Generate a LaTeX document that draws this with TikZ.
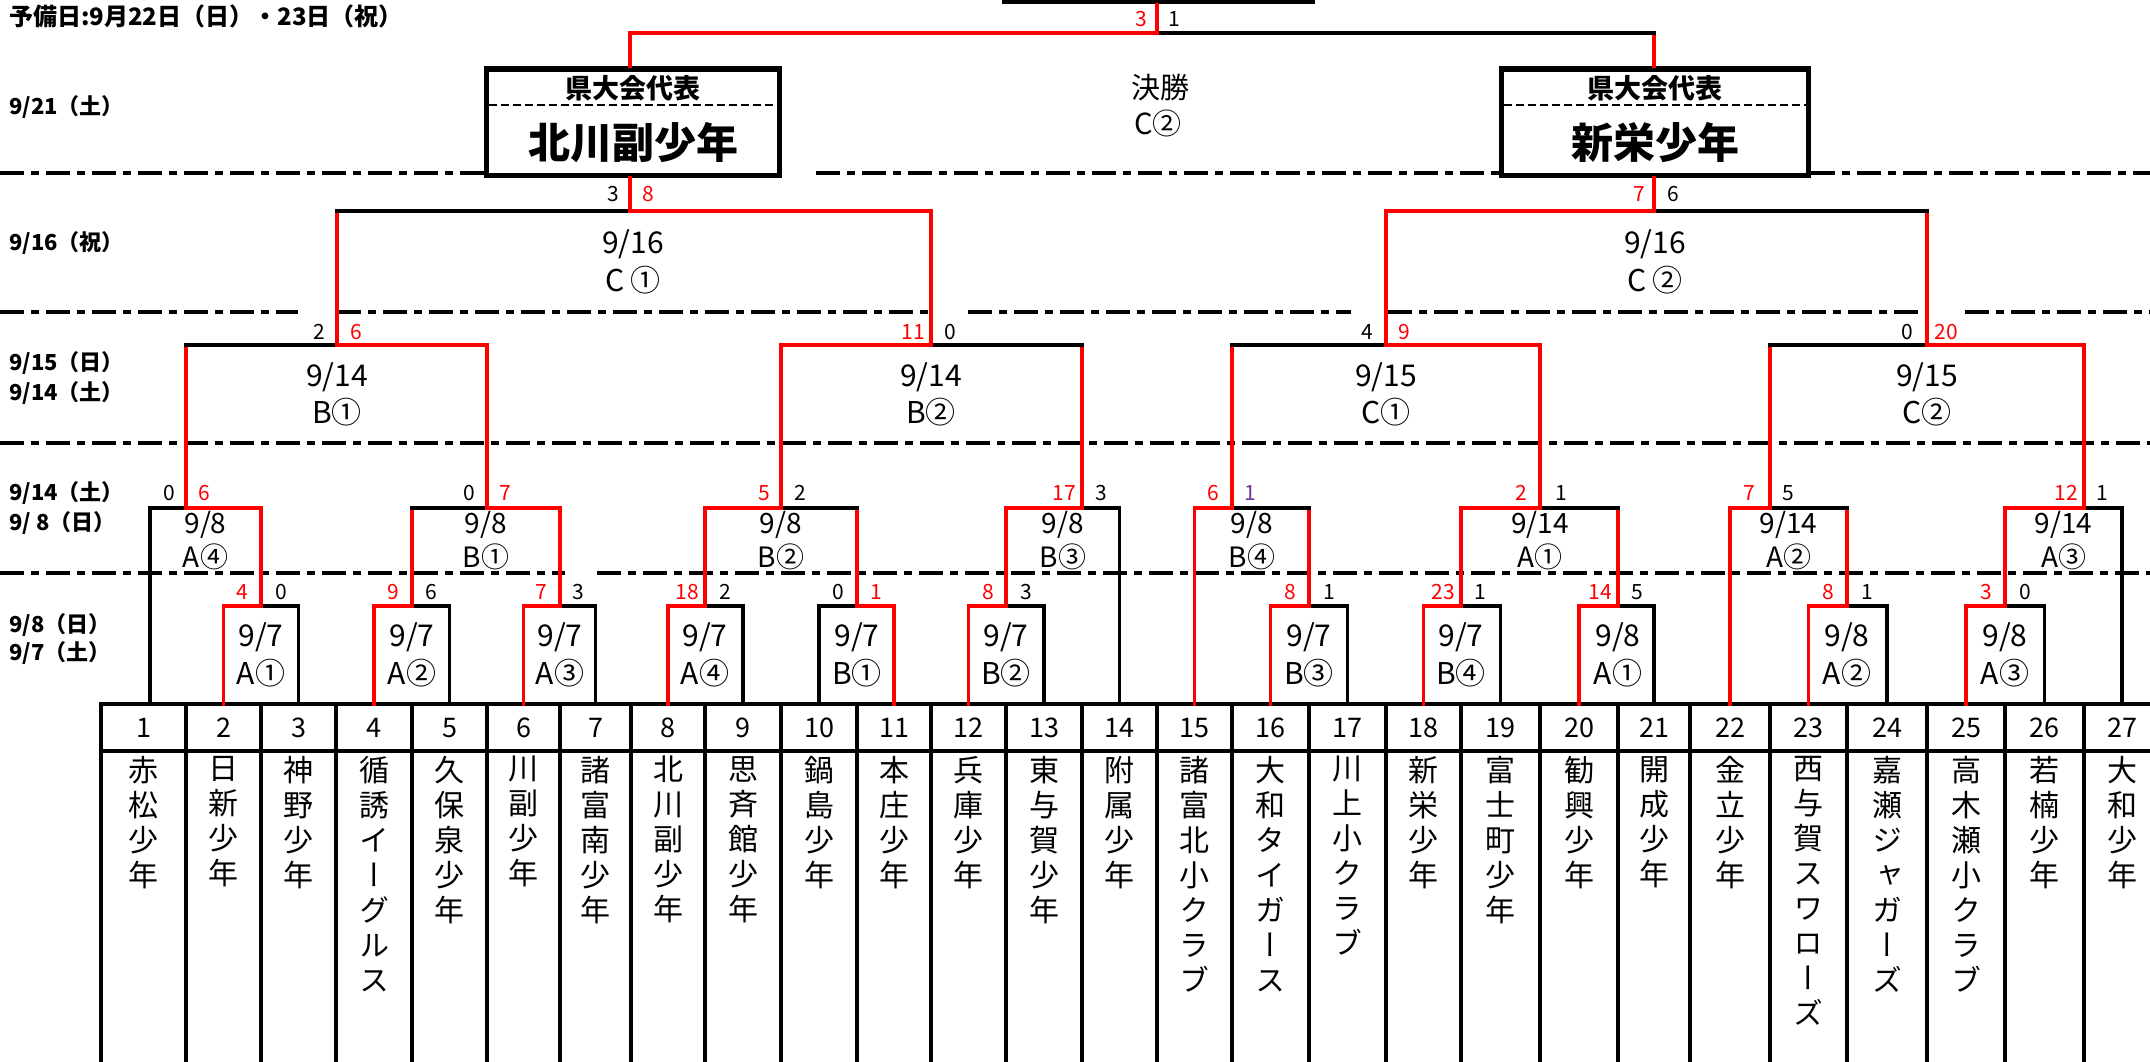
\documentclass[tikz,border=0pt]{standalone}
\usepackage{fontspec}
\setmainfont{Noto Sans CJK JP}
\newfontfamily\vjp[RawFeature=+vert]{Noto Sans CJK JP}
\newcommand\fsz[1]{\fontsize{#1}{#1}\selectfont}
\definecolor{wred}{RGB}{255,0,0}
\definecolor{vio}{RGB}{112,48,160}
\newcommand\adv[3]{\draw[wl] (#1) -- (#1 |- #2);\draw[#3] (#1 |- #2) -- (#2);}
\begin{document}
\begin{tikzpicture}[x=1pt,y=-1pt,
  line cap=rect,
  wl/.style={line width=3.4pt, draw=wred},
  bl/.style={line width=3.4pt, draw=black},
  sep/.style={line width=4.5pt, line cap=butt, dash pattern=on 24pt off 7pt on 8pt off 7pt},
  grid/.style={line width=3.4pt},
  sc/.style={font=\fsz{21}, inner sep=0},
  scw/.style={sc, text=wred},
  lab/.style={font=\fsz{30}, inner sep=0},
  labs/.style={font=\fsz{28}, inner sep=0},
  date/.style={font=\bfseries\fsz{22}, anchor=west, inner sep=0},
  num/.style={font=\fsz{27}, inner sep=0},
  tname/.style={font=\vjp\fontsize{30}{35}\selectfont, align=center, anchor=north, inner sep=0},
  finbox/.style={draw, line width=5.5pt, fill=white, inner sep=0, minimum height=106.5, line cap=butt},
]
\useasboundingbox (0,0) rectangle (2150,1061);
\clip (0,0) rectangle (2150,1061);

% ---------- separators ----------
\draw[sep] (0,173) -- (484,173);
\draw[sep] (816,173) -- (1499,173);
\draw[sep] (1811,173) -- (2150,173);
\draw[sep] (0,312) -- (298,312);
\draw[sep] (337,312) -- (929,312);
\draw[sep] (968,312) -- (1351,312);
\draw[sep] (1388,312) -- (1926,312);
\draw[sep] (1965,312) -- (2150,312);
\draw[sep] (0,443) -- (2150,443);
\draw[sep] (0,573) -- (565,573);
\draw[sep] (597,573) -- (2150,573);

% ---------- left date labels ----------
\node[date, font=\bfseries\fsz{24}] (title) at (9,16) {予備日:9月22日（日）・23日（祝）};
\node[date] (d1) at (9,107) {9/21（土）};
\node[date] (d2) at (9,243) {9/16（祝）};
\node[date] (d3) at (9,363) {9/15（日）};
\node[date] (d4) at (9,393) {9/14（土）};
\node[date] (d5) at (9,493) {9/14（土）};
\node[date] (d6) at (9,523) {9/ 8（日）};
\node[date] (d7) at (9,625) {9/8（日）};
\node[date] (d8) at (9,653) {9/7（土）};

% ---------- table ----------
\draw[grid] (101,704) -- (2160,704);
\draw[grid] (101,751) -- (2160,751);
\foreach \x in {101,186,261,336,412,487,560,631,705,781,857,931,1006,1082,1157,1232,1309,1386,1461,1540,1618,1690,1770,1847,1927,2005,2084,2160}
  \draw[grid] (\x,704) -- (\x,1070);

\foreach \i/\x/\nm in {
 1/143.5/赤\\松\\少\\年,
 2/223.5/日\\新\\少\\年,
 3/298.5/神\\野\\少\\年,
 4/374/循\\誘\\イ\\ー\\グ\\ル\\ス,
 5/449.5/久\\保\\泉\\少\\年,
 6/523.5/川\\副\\少\\年,
 7/595.5/諸\\富\\南\\少\\年,
 8/668/北\\川\\副\\少\\年,
 9/743/思\\斉\\館\\少\\年,
 10/819/鍋\\島\\少\\年,
 11/894/本\\庄\\少\\年,
 12/968.5/兵\\庫\\少\\年,
 13/1044/東\\与\\賀\\少\\年,
 14/1119.5/附\\属\\少\\年,
 15/1194.5/諸\\富\\北\\小\\ク\\ラ\\ブ,
 16/1270.5/大\\和\\タ\\イ\\ガ\\ー\\ス,
 17/1347.5/川\\上\\小\\ク\\ラ\\ブ,
 18/1423.5/新\\栄\\少\\年,
 19/1500.5/富\\士\\町\\少\\年,
 20/1579/勧\\興\\少\\年,
 21/1654/開\\成\\少\\年,
 22/1730/金\\立\\少\\年,
 23/1808.5/西\\与\\賀\\ス\\ワ\\ロ\\ー\\ズ,
 24/1887/嘉\\瀬\\ジ\\ャ\\ガ\\ー\\ズ,
 25/1966/高\\木\\瀬\\小\\ク\\ラ\\ブ,
 26/2044.5/若\\楠\\少\\年,
 27/2122/大\\和\\少\\年}{
  \node[num] (k\i) at (\x,728) {\i};
  \node[tname] (n\i) at (\x,756) {\nm};
  \coordinate (t\i) at (\x,704);
}
\coordinate (t1) at (150,704);

% ---------- match points ----------
\coordinate (a1) at (261,606);
\coordinate (a2) at (412,606);
\coordinate (a3) at (560,606);
\coordinate (a4) at (705,606);
\coordinate (b1) at (857,606);
\coordinate (b2) at (1006,606);
\coordinate (b3) at (1309,606);
\coordinate (b4) at (1461,606);
\coordinate (c1) at (1618,606);
\coordinate (c2) at (1847,606);
\coordinate (c3) at (2005,606);
\coordinate (q1) at (186,508);
\coordinate (q2) at (487,508);
\coordinate (q3) at (781,508);
\coordinate (q4) at (1082,508);
\coordinate (q5) at (1232,508);
\coordinate (q6) at (1540,508);
\coordinate (q7) at (1770,508);
\coordinate (q8) at (2084,508);
\coordinate (r1) at (337,345);
\coordinate (r2) at (931,345);
\coordinate (r3) at (1386,345);
\coordinate (r4) at (1927,345);
\coordinate (s1) at (630,211);
\coordinate (s2) at (1654,211);
\coordinate (fin) at (1157,33);

% ---------- team lines ----------
\draw[bl] (t1) |- (q1);
\draw[bl] (t3) |- (a1);
\draw[bl] (t5) |- (a2);
\draw[bl] (t7) |- (a3);
\draw[bl] (t9) |- (a4);
\draw[bl] (t10) |- (b1);
\draw[bl] (t13) |- (b2);
\draw[bl] (t14) |- (q4);
\draw[bl] (t17) |- (b3);
\draw[bl] (t19) |- (b4);
\draw[bl] (t21) |- (c1);
\draw[bl] (t24) |- (c2);
\draw[bl] (t26) |- (c3);
\draw[bl] (t27) |- (q8);
\draw[wl] (t2) |- (a1);
\draw[wl] (t4) |- (a2);
\draw[wl] (t6) |- (a3);
\draw[wl] (t8) |- (a4);
\draw[wl] (t11) |- (b1);
\draw[wl] (t12) |- (b2);
\draw[wl] (t15) |- (q5);
\draw[wl] (t16) |- (b3);
\draw[wl] (t18) |- (b4);
\draw[wl] (t20) |- (c1);
\draw[wl] (t22) |- (q7);
\draw[wl] (t23) |- (c2);
\draw[wl] (t25) |- (c3);

% ---------- advancing lines ----------
\adv{a2}{q2}{bl}
\adv{b1}{q3}{bl}
\adv{b3}{q5}{bl}
\adv{c1}{q6}{bl}
\adv{c2}{q7}{bl}
\adv{a1}{q1}{wl}
\adv{a3}{q2}{wl}
\adv{a4}{q3}{wl}
\adv{b2}{q4}{wl}
\adv{b4}{q6}{wl}
\adv{c3}{q8}{wl}
\adv{q1}{r1}{bl}
\adv{q4}{r2}{bl}
\adv{q5}{r3}{bl}
\adv{q7}{r4}{bl}
\adv{q2}{r1}{wl}
\adv{q3}{r2}{wl}
\adv{q6}{r3}{wl}
\adv{q8}{r4}{wl}
\adv{r1}{s1}{bl}
\adv{r4}{s2}{bl}
\adv{r2}{s1}{wl}
\adv{r3}{s2}{wl}

% ---------- finalists and final ----------
\node[finbox, minimum width=293] (f1) at (633,122) {};
\node[finbox, minimum width=307] (f2) at (1655,122) {};
\node[draw, line width=5.5pt, minimum width=307, minimum height=100, inner sep=0] (champ) at (1158.5,-48.5) {};
\draw[wl] (s1) -- (s1 |- f1.south);
\draw[wl] (s2) -- (s2 |- f2.south);
\draw[wl] (s1 |- f1.north) -- (s1 |- fin) -- (fin);
\draw[wl] (s2 |- f2.north) -- (s2 |- fin);
\draw[bl] (s2 |- fin) -- (fin);
\draw[wl] (fin) -- (fin |- champ.south);
\draw[line width=2.8pt, line cap=butt, dash pattern=on 8pt off 4pt] (489,105) -- (777,105);
\draw[line width=2.8pt, line cap=butt, dash pattern=on 8pt off 4pt] (1504,105) -- (1806,105);
\node[font=\bfseries\fsz{27}, inner sep=0] (f1a) at (633,88) {県大会代表};
\node[font=\bfseries\fsz{42}, inner sep=0] (f1b) at (633,143) {北川副少年};
\node[font=\bfseries\fsz{27}, inner sep=0] (f2a) at (1655,88) {県大会代表};
\node[font=\bfseries\fsz{42}, inner sep=0] (f2b) at (1655,143) {新栄少年};
\node[font=\fsz{29}, inner sep=0] (ft1) at (1160,87) {決勝};
\node[font=\fsz{29}, inner sep=0] (ft2) at (1158,123) {C②};

% ---------- match labels ----------
\foreach \n/\x/\d/\r in {a1/261/9\slash 7/A①, a2/412/9\slash 7/A②, a3/560/9\slash 7/A③, a4/705/9\slash 7/A④,
  b1/857/9\slash 7/B①, b2/1006/9\slash 7/B②, b3/1309/9\slash 7/B③, b4/1461/9\slash 7/B④,
  c1/1618/9\slash 8/A①, c2/1847/9\slash 8/A②, c3/2005/9\slash 8/A③}{
  \node[lab] (L\n d) at (\x,637) {\d};
  \node[lab] (L\n r) at (\x,673) {\r};
}
\foreach \n/\x/\d/\r in {q1/205.5/9\slash 8/A④, q2/486/9\slash 8/B①, q3/781/9\slash 8/B②, q4/1063/9\slash 8/B③,
  q5/1252/9\slash 8/B④, q6/1540/9\slash 14/A①, q7/1788.5/9\slash 14/A②, q8/2063.5/9\slash 14/A③}{
  \node[labs] (L\n d) at (\x,525) {\d};
  \node[labs] (L\n r) at (\x,557) {\r};
}
\foreach \n/\x/\d/\r in {r1/337/9\slash 14/B①, r2/931/9\slash 14/B②, r3/1386/9\slash 15/C①, r4/1927/9\slash 15/C②}{
  \node[lab] (L\n d) at (\x,377) {\d};
  \node[lab] (L\n r) at (\x,412) {\r};
}
\node[lab] (Ls1d) at (633,244) {9/16};
\node[lab] (Ls1r) at (633,280) {C ①};
\node[lab] (Ls2d) at (1655,244) {9/16};
\node[lab] (Ls2r) at (1655,280) {C ②};

% ---------- scores ----------
\node[scw] (sa1l) at (242,592) {4};    \node[sc] (sa1r) at (281,592) {0};
\node[scw] (sa2l) at (393,592) {9};    \node[sc] (sa2r) at (431,592) {6};
\node[scw] (sa3l) at (541,592) {7};    \node[sc] (sa3r) at (578,592) {3};
\node[scw] (sa4l) at (687,592) {18};   \node[sc] (sa4r) at (725,592) {2};
\node[sc] (sb1l) at (838,592) {0};     \node[scw] (sb1r) at (876,592) {1};
\node[scw] (sb2l) at (988,592) {8};    \node[sc] (sb2r) at (1026,592) {3};
\node[scw] (sb3l) at (1290,592) {8};   \node[sc] (sb3r) at (1329,592) {1};
\node[scw] (sb4l) at (1443,592) {23};  \node[sc] (sb4r) at (1480,592) {1};
\node[scw] (sc1l) at (1600,592) {14};  \node[sc] (sc1r) at (1637,592) {5};
\node[scw] (sc2l) at (1828,592) {8};   \node[sc] (sc2r) at (1867,592) {1};
\node[scw] (sc3l) at (1986,592) {3};   \node[sc] (sc3r) at (2025,592) {0};
\node[sc] (sq1l) at (169,493) {0};     \node[scw] (sq1r) at (204,493) {6};
\node[sc] (sq2l) at (469,493) {0};     \node[scw] (sq2r) at (505,493) {7};
\node[scw] (sq3l) at (764,493) {5};    \node[sc] (sq3r) at (800,493) {2};
\node[scw] (sq4l) at (1064,493) {17};  \node[sc] (sq4r) at (1101,493) {3};
\node[scw] (sq5l) at (1213,493) {6};   \node[sc, text=vio] (sq5r) at (1250,493) {1};
\node[scw] (sq6l) at (1521,493) {2};   \node[sc] (sq6r) at (1561,493) {1};
\node[scw] (sq7l) at (1749,493) {7};   \node[sc] (sq7r) at (1788,493) {5};
\node[scw] (sq8l) at (2066,493) {12};  \node[sc] (sq8r) at (2102,493) {1};
\node[sc] (sr1l) at (319,332) {2};     \node[scw] (sr1r) at (356,332) {6};
\node[scw] (sr2l) at (913,332) {11};   \node[sc] (sr2r) at (950,332) {0};
\node[sc] (sr3l) at (1367,332) {4};    \node[scw] (sr3r) at (1404,332) {9};
\node[sc] (sr4l) at (1907,332) {0};    \node[scw] (sr4r) at (1946,332) {20};
\node[sc] (ss1l) at (613,194) {3};     \node[scw] (ss1r) at (648,194) {8};
\node[scw] (ss2l) at (1639,194) {7};   \node[sc] (ss2r) at (1673,194) {6};
\node[scw] (sfl) at (1141,19) {3};     \node[sc] (sfr) at (1174,19) {1};
\end{tikzpicture}
\end{document}
